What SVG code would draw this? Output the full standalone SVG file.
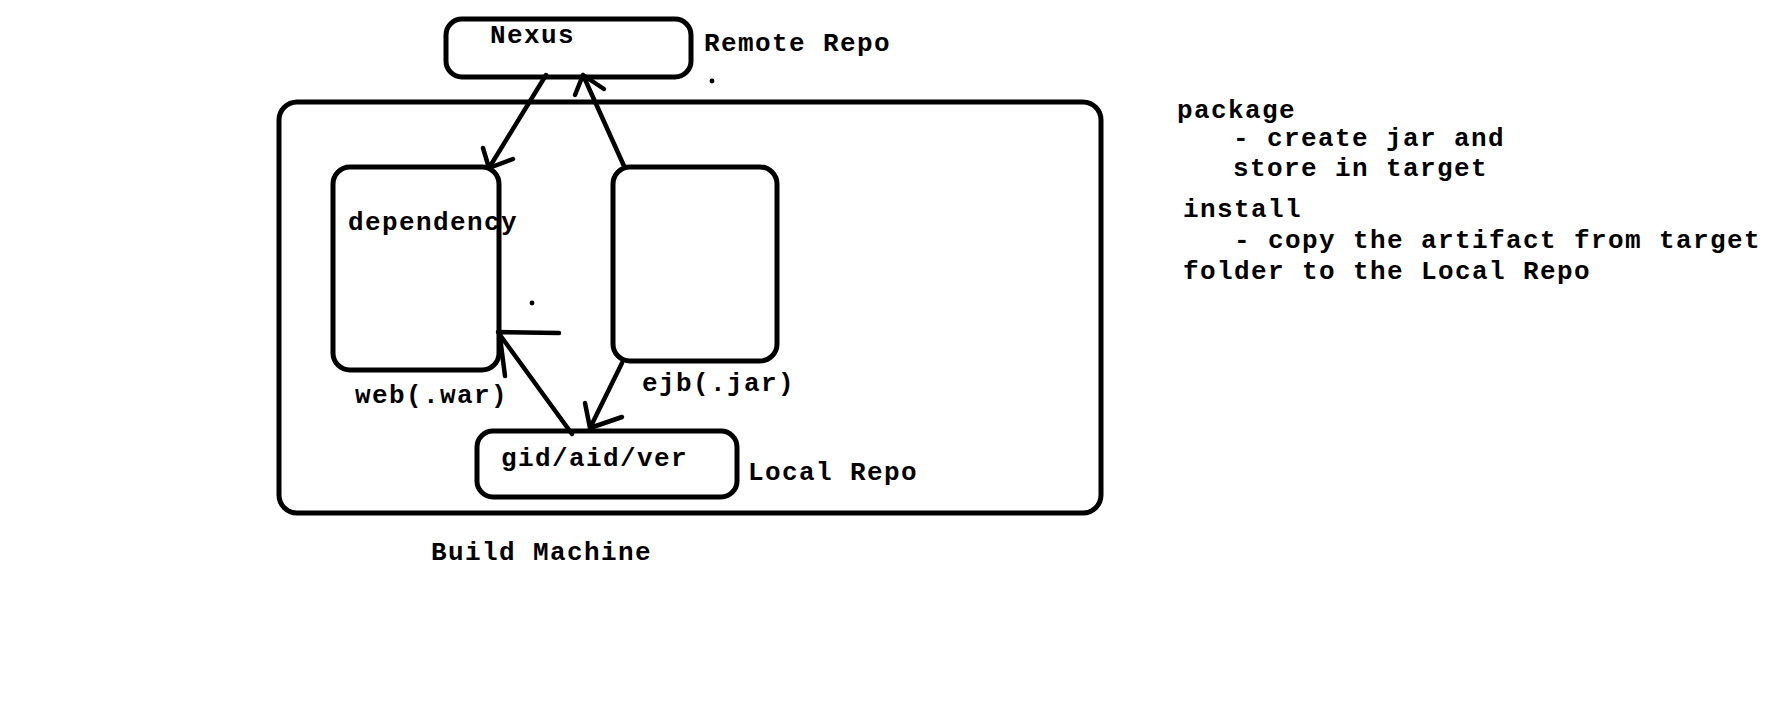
<svg xmlns="http://www.w3.org/2000/svg" width="1786" height="726" viewBox="0 0 1786 726">
<style>
.box{fill:none;stroke:#000;stroke-width:5}
.ln{fill:none;stroke:#000;stroke-width:4.5;stroke-linecap:round;stroke-linejoin:round}
.t{font-family:"Liberation Mono","Courier New",monospace;font-weight:bold;font-size:26px;letter-spacing:1.4px;fill:#000}
</style>
<rect width="1786" height="726" fill="#fff"/>
<g id="build-machine">
<rect class="box" x="279" y="102" width="822" height="411" rx="18"/>
<text class="t" x="431" y="560">Build Machine</text>
</g>
<g id="nexus">
<rect class="box" x="446" y="19" width="245" height="58" rx="16"/>
<text class="t" x="490" y="43">Nexus</text>
<text class="t" x="704" y="51">Remote Repo</text>
<circle cx="712" cy="81" r="2.4"/>
</g>
<g id="web">
<rect class="box" x="333" y="167" width="166" height="203" rx="17"/>
<text class="t" x="348" y="230">dependency</text>
<text class="t" x="355" y="403">web(.war)</text>
</g>
<g id="ejb">
<rect class="box" x="613" y="167" width="164" height="194" rx="17"/>
<text class="t" x="642" y="391">ejb(.jar)</text>
</g>
<g id="local-repo">
<rect class="box" x="477" y="431" width="260" height="66" rx="16"/>
<text class="t" x="501" y="466">gid/aid/ver</text>
<text class="t" x="748" y="480">Local Repo</text>
</g>
<g id="connectors">
<path class="ln" d="M546 75 L489 168 M483 148 L489 168 L513 159"/>
<path class="ln" d="M624 166 L583 75 M575 95 L583 75 L604 89"/>
<path class="ln" d="M622 363 L590 428 M585 403 L590 428 L622 417"/>
<path class="ln" d="M572 434 L500 335 M559 333 L498 332 M500 337 L505 376"/>
<circle cx="532" cy="303" r="2.4"/>
</g>
<g id="notes">
<text class="t" x="1177" y="118">package</text>
<text class="t" x="1233" y="146">- create jar and</text>
<text class="t" x="1233" y="176">store in target</text>
<text class="t" x="1183" y="217">install</text>
<text class="t" x="1234" y="248">- copy the artifact from target</text>
<text class="t" x="1183" y="279">folder to the Local Repo</text>
</g>
</svg>
